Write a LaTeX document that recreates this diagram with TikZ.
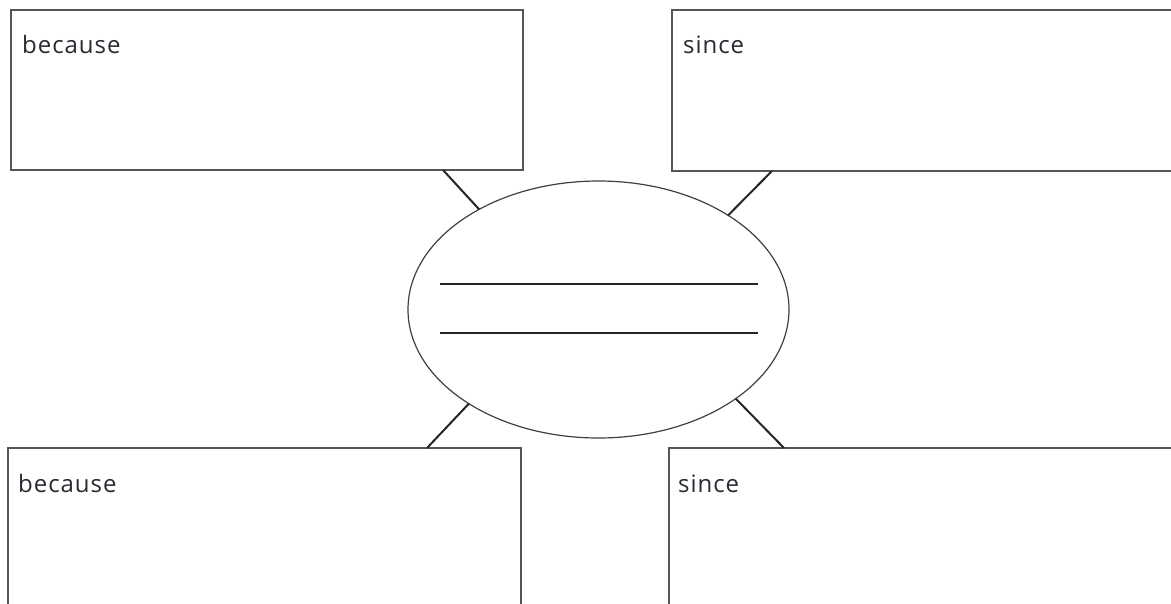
\documentclass[tikz,border=0pt]{standalone}
\usepackage{fontspec}
\setmainfont{Open Sans}
\newfontfamily\handfont[LetterSpace=4]{Open Sans}
\usetikzlibrary{shapes.geometric}
\definecolor{boxgray}{HTML}{555555}
\definecolor{inkc}{HTML}{2A2A33}
\tikzset{
  answerbox/.style={draw=boxgray, line width=1.8pt, rectangle, inner sep=0pt, outer sep=0pt, anchor=north west},
  label/.style={anchor=base west, inner sep=0pt, text=inkc, font=\handfont\fontsize{24}{28}\selectfont},
  link/.style={draw=black!85, line width=2pt},
  rule/.style={draw=black!85, line width=1.2pt}
}
\begin{document}
\begin{tikzpicture}[x=1pt,y=-1pt]
\useasboundingbox (0,0) rectangle (1171,603);
\clip (0,0) rectangle (1171,603);
\fill[white] (0,0) rectangle (1171,603);
% boxes
\node[answerbox, minimum width=512pt, minimum height=160pt] (tl) at (11,10) {};
\node[answerbox, minimum width=560pt, minimum height=161pt] (tr) at (672,10) {};
\node[answerbox, minimum width=513pt, minimum height=200pt] (bl) at (8,448) {};
\node[answerbox, minimum width=560pt, minimum height=200pt] (br) at (669,448) {};
% labels
\node[label] (tlt) at (22,53) {because};
\node[label] (trt) at (683,53) {since};
\node[label] (blt) at (18,492) {because};
\node[label] (brt) at (678,492) {since};
% ellipse
\node[ellipse, draw=black!75, line width=1.2pt, minimum width=381pt, minimum height=257pt, inner sep=0pt, outer sep=0pt] (e) at (598.5,309.5) {};
% lines inside
\coordinate (l1a) at (440,284); \coordinate (l1b) at (758,284);
\coordinate (l2a) at (440,333); \coordinate (l2b) at (758,333);
\draw[rule] (l1a) -- (l1b);
\draw[rule] (l2a) -- (l2b);
% connectors
\draw[link] ([xshift=432pt]tl.south west) -- (e.140);
\draw[link] ([xshift=100pt]tr.south west) -- (e.36);
\draw[link] ([xshift=419pt]bl.north west) -- (e.216);
\draw[link] ([xshift=115pt]br.north west) -- (e.327.4);
\end{tikzpicture}
\end{document}
